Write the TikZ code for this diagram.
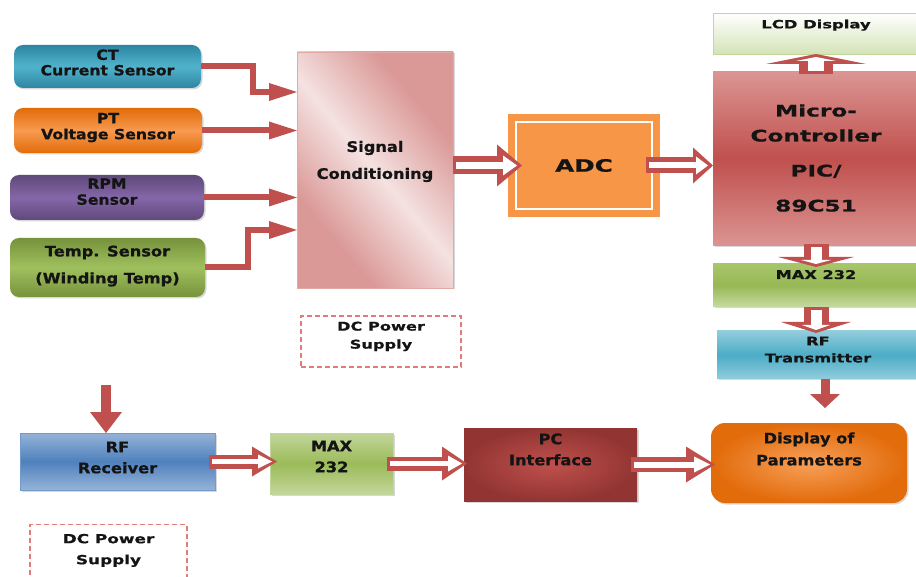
\documentclass[tikz,border=0pt]{standalone}
\usepackage{fontspec}
\setmainfont{DejaVu Sans}[FakeStretch=1.12, BoldFeatures={FakeBold=0.8}]
\newfontfamily\widefont{DejaVu Sans}[FakeStretch=1.35, BoldFeatures={FakeBold=0.6}]
\newfontfamily\xwidefont{DejaVu Sans}[FakeStretch=1.45, BoldFeatures={FakeBold=0.8}]
\usetikzlibrary{arrows.meta,calc,shadows}
\definecolor{arrred}{HTML}{C0504D}
\definecolor{txt}{HTML}{141414}
\definecolor{ctE}{HTML}{2C86A2}
\definecolor{ctM}{HTML}{52B2CC}
\definecolor{ptE}{HTML}{E36C09}
\definecolor{ptM}{HTML}{F79A50}
\definecolor{rpmE}{HTML}{5F497A}
\definecolor{rpmM}{HTML}{8467A8}
\definecolor{tmpE}{HTML}{76923C}
\definecolor{tmpM}{HTML}{A0C05E}
\definecolor{scL}{HTML}{F4E2E1}
\definecolor{scD}{HTML}{DA9896}
\definecolor{scB}{HTML}{E3A9A7}
\definecolor{adcO}{HTML}{F79646}
\definecolor{lcdB}{HTML}{D4E3B8}
\definecolor{lcdD}{HTML}{C3D69B}
\definecolor{mcL}{HTML}{DB9593}
\definecolor{mcD}{HTML}{C0504D}
\definecolor{mxT}{HTML}{A7C56A}
\definecolor{mxM}{HTML}{97B855}
\definecolor{mxB}{HTML}{C6DAA0}
\definecolor{txT}{HTML}{92CDDC}
\definecolor{txM}{HTML}{4BACC6}
\definecolor{rxL}{HTML}{95B3D7}
\definecolor{rxD}{HTML}{4F81BD}
\definecolor{m2L}{HTML}{C3D69B}
\definecolor{m2D}{HTML}{9BBB59}
\definecolor{pcI}{HTML}{C0504D}
\definecolor{pcO}{HTML}{923532}
\definecolor{dpI}{HTML}{F7A05A}
\definecolor{dpO}{HTML}{E26B0A}
\definecolor{dcred}{HTML}{E27C7A}
\pgfdeclarehorizontalshading{scshade}{100bp}{color(0bp)=(scD); color(30bp)=(scD); color(50bp)=(scL); color(70bp)=(scD); color(100bp)=(scD)}
\newcommand\uptext[2]{\raisebox{#1}[\height][\depth]{\begin{tabular}{@{}c@{}}#2\end{tabular}}}
\newcommand\fsz[2]{\fontsize{#1}{#2}\selectfont\bfseries}
\newcommand\hollowarr[9]{%
  \draw[arrred, line width=#3pt, -{Triangle[length=#4pt,width=#5pt,line width=0pt]}] #1 -- #2;
  \draw[white, line width=#6pt, -{Triangle[length=#7pt,width=#8pt,line width=0pt]}, shorten <=3pt, shorten >=#9pt] #1 -- #2;}
\begin{document}
\begin{tikzpicture}[x=1pt,y=-1pt,
  every node/.style={inner sep=0pt, outer sep=0pt, text=txt},
  sh/.style={drop shadow={shadow xshift=1.5pt,shadow yshift=-1.5pt,opacity=0.3}},
  sensor/.style={rounded corners=9pt, sh},
  sarrow/.style={draw=arrred, line width=6pt, line join=miter, -{Triangle[length=28pt,width=18pt,line width=0pt]}},
  bigarrow/.style={draw=arrred, line width=#1, -{Triangle[length=21pt,width=32pt,line width=0pt]}},
  dcbox/.style={draw=dcred, dash pattern=on 5pt off 3pt, line width=1.3pt}
]
\clip (0,0) rectangle (916,577);
\fill[white] (0,0) rectangle (916,577);

% sensors
\node[sensor, minimum width=187pt, minimum height=43pt, top color=ctE, bottom color=ctE, middle color=ctM, font=\fsz{14}{15.5}] (ct) at (107.5,66.5) {\uptext{2pt}{CT\\Current Sensor}};
\node[sensor, minimum width=188pt, minimum height=45pt, top color=ptE, bottom color=ptE, middle color=ptM, font=\fsz{14}{16}] (pt) at (108,130.5) {\uptext{2.5pt}{PT\\Voltage Sensor}};
\node[sensor, minimum width=194pt, minimum height=45pt, top color=rpmE, bottom color=rpmE, middle color=rpmM, font=\fsz{14}{16}] (rpm) at (107,197.5) {\uptext{4pt}{RPM\\Sensor}};
\node[sensor, minimum width=195pt, minimum height=59pt, top color=tmpE, bottom color=tmpE, middle color=tmpM, font=\fsz{14.5}{27}] (temp) at (107.5,267.5) {\uptext{3pt}{Temp. Sensor\\(Winding Temp)}};

% signal conditioning
\node[minimum width=156pt, minimum height=236pt, shading=scshade, shading angle=40, draw=scB, line width=0.8pt, sh, font=\fsz{14.5}{27}] (sc) at (375,170) {\uptext{10pt}{Signal\\Conditioning}};
\node[dcbox, minimum width=160pt, minimum height=51pt, font=\widefont\fsz{12}{18}] (dc1) at (381,341.5) {\uptext{5.5pt}{DC Power\\Supply}};

% ADC
\node[minimum width=136pt, minimum height=87pt, outer sep=8pt, fill=adcO, draw=adcO, double=white, double distance=2pt, line width=7pt, font=\xwidefont\fsz{17}{20}] (adc) at (584,165.5) {ADC};

% right column
\node[minimum width=206pt, minimum height=41pt, top color=white, bottom color=lcdB, draw=lcdD, line width=0.8pt, sh, font=\xwidefont\fsz{11.3}{14}] (lcd) at (816,33.5) {\uptext{8pt}{LCD Display}};
\node[minimum width=206pt, minimum height=174pt, top color=mcL, bottom color=mcL, middle color=mcD, sh, font=\xwidefont\fsz{16}{25}] (mc) at (816,159) {\uptext{0pt}{Micro-\\Controller\\[10pt]PIC/\\[10pt]89C51}};
\node[minimum width=206pt, minimum height=43pt, top color=mxT, bottom color=mxB, middle color=mxM, sh, font=\widefont\fsz{12}{15}] (max1) at (816,285.5) {\uptext{9.5pt}{MAX 232}};
\node[minimum width=202pt, minimum height=48pt, top color=txT, bottom color=txT, middle color=txM, sh, font=\widefont\fsz{12}{17}] (rftx) at (818,355) {\uptext{4.5pt}{RF\\Transmitter}};

% bottom row
\node[minimum width=195pt, minimum height=57pt, top color=rxL, bottom color=rxL, middle color=rxD, draw=rxD!80!white, line width=0.6pt, sh, font=\fsz{14.5}{21}] (rfrx) at (117.5,461.5) {\uptext{3pt}{RF\\Receiver}};
\node[minimum width=123pt, minimum height=61pt, top color=m2L, bottom color=m2L, middle color=m2D, draw=m2L, line width=0.6pt, sh, font=\fsz{14.5}{21}] (max2) at (331.5,463.5) {\uptext{6pt}{MAX\\232}};
\node[minimum width=173pt, minimum height=73pt, inner color=pcI, outer color=pcO, sh, font=\fsz{14.5}{21}] (pc) at (550.5,464.5) {\uptext{14pt}{PC\\Interface}};
\node[minimum width=196pt, minimum height=80pt, rounded corners=14pt, inner color=dpI, outer color=dpO, sh, font=\fsz{14.5}{22}] (disp) at (809,463) {\uptext{13pt}{Display of\\Parameters}};
\node[dcbox, minimum width=157pt, minimum height=65pt, font=\widefont\fsz{12.5}{21}] (dc2) at (108.5,557) {\uptext{7.5pt}{DC Power\\Supply}};

% sensor arrows
\draw[sarrow] (ct.east) -- ++(52,0) |- ($(sc.north west)+(0,40)$);
\draw[sarrow] (pt.east) -- (pt.east -| sc.west);
\draw[sarrow] (rpm.east) -- (rpm.east -| sc.west);
\draw[sarrow] (temp.east) -- ++(43,0) |- ($(sc.north west)+(0,178)$);

% hollow arrows
\hollowarr{(sc.east |- adc.west)}{($(adc.west)+(14,0)$)}{18}{25}{42}{7}{14}{20}{5}
\hollowarr{($(adc.east)+(-14,0)$)}{(mc.west |- adc.east)}{16}{20}{36}{6}{12}{18}{5}
\hollowarr{($(mc.north)+(0,2)$)}{(lcd.south)}{34}{10}{100}{16}{4}{40}{3}
\hollowarr{($(mc.south)+(0,-2)$)}{($(max1.north)+(0,3)$)}{25}{10}{76}{11}{4}{30}{3}
\hollowarr{(max1.south)}{($(max1.south |- rftx.north)+(0,2)$)}{25}{11}{70}{11}{5}{28}{3}
\hollowarr{($(rfrx.east)+(-6,0)$)}{($(max2.west |- rfrx.east)+(7,0)$)}{14}{25}{30}{5}{14}{14}{5}
\hollowarr{($(max2.east)+(-6,0)$)}{($(pc.west |- max2.east)+(3,0)$)}{14}{25}{34}{5}{14}{16}{5}
\hollowarr{($(pc.east)+(-6,0)$)}{($(disp.west |- pc.east)+(4,0)$)}{15}{29}{36}{6}{16}{16}{5}

% solid arrows
\coordinate (rfsrc) at (106,385);
\draw[bigarrow=10pt] (rfsrc) -- (rfsrc |- rfrx.north);
\draw[draw=arrred, line width=9pt, -{Triangle[length=14pt,width=30pt,line width=0pt]}] ($(rftx.south)+(7,0)$) -- ($(disp.north)+(16,-15)$);
\end{tikzpicture}
\end{document}
